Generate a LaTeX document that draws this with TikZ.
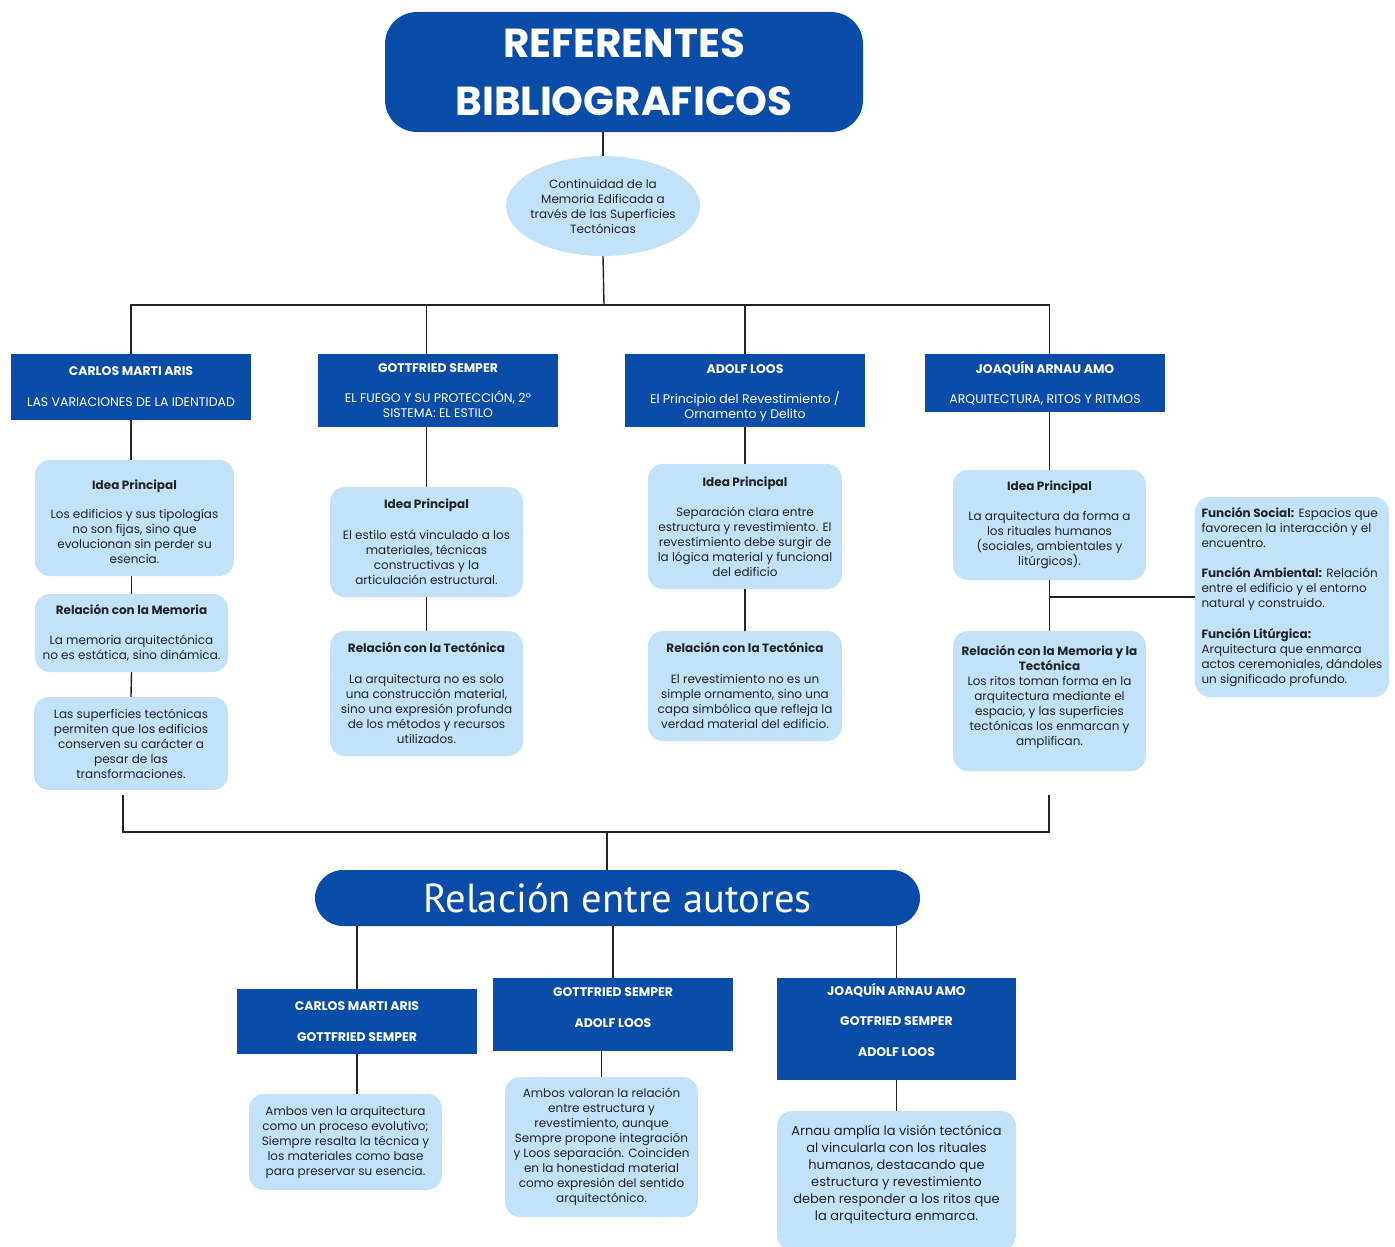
\documentclass[tikz,border=0pt]{standalone}
\usepackage{fontspec}
\setmainfont{Poppins}
\newfontfamily\relfont{PT Sans}
\usepackage{tikz}
\usetikzlibrary{shapes.geometric}
\definecolor{navy}{RGB}{10,77,168}
\definecolor{sky}{RGB}{194,226,250}
\definecolor{ink}{RGB}{35,35,35}

\begin{document}
\begin{tikzpicture}[x=1pt, y=-1pt,
    hdr/.style={fill=navy, text=white, align=center, inner sep=0pt,
                minimum width=240pt, font=\fontsize{12.5}{15}\selectfont},
    card/.style={fill=sky, rounded corners=15pt, text=ink, align=center,
                 inner sep=0pt, minimum width=193pt, font=\fontsize{12}{15}\selectfont},
    link/.style={draw=ink, line width=1.4pt}]
      \useasboundingbox (0,0) rectangle (1395,1247);
      % Title and central idea
      \node[fill=navy, rounded corners=32pt, minimum width=478pt, minimum height=120pt,
            text=white, align=center, font=\fontsize{40.5}{58}\selectfont\bfseries]
            (title) at (624,72) {REFERENTES\\BIBLIOGRAFICOS};
      \node[ellipse, fill=sky, minimum width=194pt, minimum height=100pt, inner sep=-7pt,
            text=ink, align=center, font=\fontsize{12}{15}\selectfont]
            (core) at (603,206) {Continuidad de la\\Memoria Edificada a\\través de las Superficies\\Tectónicas};
      % Authors: header boxes
      \node[hdr, minimum height=66pt] (h1) at (131,387)
            {\textbf{CARLOS MARTI ARIS}\\[16pt]LAS VARIACIONES DE LA IDENTIDAD};
      \node[hdr, minimum height=73pt] (h2) at (438,390.5)
            {\textbf{GOTTFRIED SEMPER}\\[15pt]EL FUEGO Y SU PROTECCIÓN, 2º\\SISTEMA: EL ESTILO};
      \node[hdr, minimum height=73pt] (h3) at (745,390.5)
            {\rule{0pt}{15pt}\textbf{ADOLF LOOS}\\[15pt]El Principio del Revestimiento /\\Ornamento y Delito};
      \node[hdr, minimum height=58pt] (h4) at (1045,383)
            {\textbf{JOAQUÍN ARNAU AMO}\\[15pt]ARQUITECTURA, RITOS Y RITMOS};
      % Column 1
      \node[card, minimum width=199pt, minimum height=116pt] (c1a) at (134.5,518)
            {\rule{0pt}{17pt}\textbf{Idea Principal}\\[14pt]Los edificios y sus tipologías\\no son fijas, sino que\\evolucionan sin perder su\\esencia.};
      \node[card, minimum height=78pt] (c1b) at (131.5,633)
            {\textbf{Relación con la Memoria}\\[15pt]La memoria arquitectónica\\no es estática, sino dinámica.};
      \node[card, minimum width=194pt, minimum height=93pt] (c1c) at (131,743.5)
            {Las superficies tectónicas\\permiten que los edificios\\conserven su carácter a\\pesar de las\\transformaciones.};
      % Column 2
      \node[card, minimum height=110pt] (c2a) at (426.5,542)
            {\textbf{Idea Principal}\\[16pt]El estilo está vinculado a los\\materiales, técnicas\\constructivas y la\\articulación estructural.};
      \node[card, minimum height=125pt] (c2b) at (426.5,693.5)
            {\textbf{Relación con la Tectónica}\\[16pt]La arquitectura no es solo\\una construcción material,\\sino una expresión profunda\\de los métodos y recursos\\utilizados.};
      % Column 3
      \node[card, minimum width=194pt, minimum height=125pt] (c3a) at (745,526.5)
            {\textbf{Idea Principal}\\[15pt]Separación clara entre\\estructura y revestimiento. El\\revestimiento debe surgir de\\la lógica material y funcional\\del edificio};
      \node[card, minimum width=194pt, minimum height=110pt] (c3b) at (745,686)
            {\textbf{Relación con la Tectónica}\\[16pt]El revestimiento no es un\\simple ornamento, sino una\\capa simbólica que refleja la\\verdad material del edificio.};
      % Column 4
      \node[card, minimum height=110pt] (c4a) at (1049.5,525)
            {\textbf{Idea Principal}\\[15pt]La arquitectura da forma a\\los rituales humanos\\(sociales, ambientales y\\litúrgicos).};
      \node[card, minimum height=140pt] (c4b) at (1049.5,701)
            {\textbf{Relación con la Memoria y la}\\\textbf{Tectónica}\\Los ritos toman forma en la\\arquitectura mediante el\\espacio, y las superficies\\tectónicas los enmarcan y\\amplifican.\\[-4pt]};
      \node[card, align=left, minimum width=194pt, minimum height=200pt] (side) at (1292,597)
            {\textbf{Función Social:} Espacios que\\favorecen la interacción y el\\encuentro.\\[15pt]\textbf{Función Ambiental:} Relación\\entre el edificio y el entorno\\natural y construido.\\[16pt]\textbf{Función Litúrgica:}\\Arquitectura que enmarca\\actos ceremoniales, dándoles\\un significado profundo.};
      % Relation between authors
      \node[fill=navy, rounded corners=28pt, minimum width=605pt, minimum height=56pt,
            text=white, font=\relfont\fontsize{40.5}{44}\selectfont]
            (rel) at (617.5,898) {Relación entre autores};
      \node[hdr, minimum height=65pt] (bA) at (357,1021.5)
            {\textbf{CARLOS MARTI ARIS}\\[16pt]\textbf{GOTTFRIED SEMPER}};
      \node[hdr, minimum height=73pt] (bB) at (613,1014.5)
            {\textbf{GOTTFRIED SEMPER}\\[16pt]\textbf{ADOLF LOOS}\\[-2pt]};
      \node[hdr, minimum width=239pt, minimum height=102pt] (bC) at (896.5,1029)
            {\textbf{JOAQUÍN ARNAU AMO}\\[15pt]\textbf{GOTFRIED SEMPER}\\[16pt]\textbf{ADOLF LOOS}\\[4pt]};
      \node[card, minimum height=96pt] (tA) at (345.5,1142)
            {Ambos ven la arquitectura\\como un proceso evolutivo;\\Siempre resalta la técnica y\\los materiales como base\\para preservar su esencia.};
      \node[card, minimum height=140pt] (tB) at (601.5,1147)
            {Ambos valoran la relación\\entre estructura y\\revestimiento, aunque\\Sempre propone integración\\y Loos separación. Coinciden\\en la honestidad material\\como expresión del sentido\\arquitectónico.};
      \node[card, minimum width=239pt, minimum height=139pt, font=\fontsize{13}{17}\selectfont]
            (tC) at (896.5,1180.5)
            {Arnau amplía la visión tectónica\\al vincularla con los rituales\\humanos, destacando que\\estructura y revestimiento\\deben responder a los ritos que\\la arquitectura enmarca.\\[-2pt]};
      % Connectors: top tree
      \coordinate (busT) at (604,305);
      \draw[link] (title.south -| core) -- (core.north);
      \draw[link] (core.south) -- (busT);
      \draw[link] (h1.north) |- (busT) -| (c4a.north |- h4.north);
      \draw[link] (busT -| c2a) -- (c2a.north |- h2.north);
      \draw[link] (busT -| h3) -- (h3.north);
      % Connectors: columns
      \draw[link] (h1.south) -- (h1.south |- c1a.north);
      \draw[link] (c1a.south -| c1b) -- (c1b.north);
      \draw[link] (c1b.south) -- (c1c.north);
      \draw[link] (h2.south -| c2a) -- (c2a.north);
      \draw[link] (c2a.south) -- (c2b.north);
      \draw[link] (h3.south) -- (c3a.north);
      \draw[link] (c3a.south) -- (c3b.north);
      \draw[link] (h4.south -| c4a) -- (c4a.north);
      \draw[link] (c4a.south) -- (c4b.north);
      \draw[link] (c4a.south |- side.west) -- (side.west);
      % Connectors: lower tree
      \coordinate (jL) at (123,795);
      \coordinate (jR) at (1049,795);
      \coordinate (busB) at (607,832);
      \draw[link] (jL) |- (busB) -| (jR);
      \draw[link] (busB) -- (busB |- rel.north);
      \draw[link] (rel.south -| bA) -- (bA.north);
      \draw[link] (rel.south -| bB) -- (bB.north);
      \draw[link] (rel.south -| bC) -- (bC.north);
      \draw[link] (bA.south) -- (bA.south |- tA.north);
      \draw[link] (bB.south -| tB) -- (tB.north);
      \draw[link] (bC.south) -- (tC.north);
\end{tikzpicture}
\end{document}
